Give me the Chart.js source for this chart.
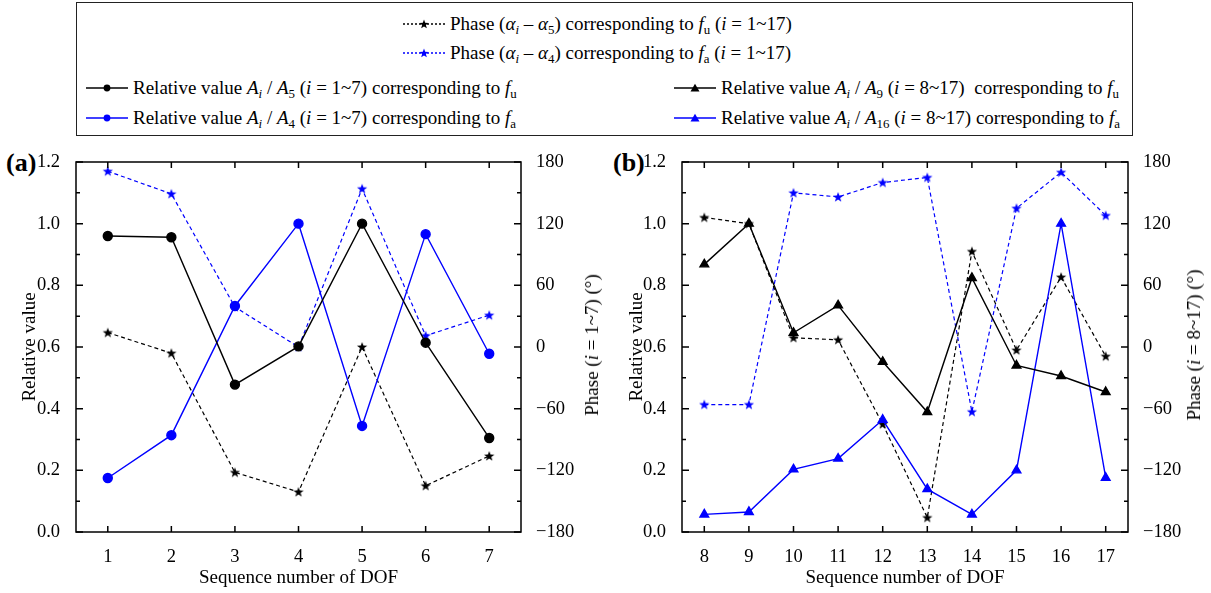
<!DOCTYPE html>
<html>
<head>
<meta charset="utf-8">
<script src="https://cdn.jsdelivr.net/npm/chart.js@4.4.1/dist/chart.umd.min.js"></script>
<style>
  body { margin: 0; background: #fff; font-family: "Liberation Serif", "Times New Roman", serif; color: #000; }
  #page { position: relative; width: 1211px; height: 593px; overflow: hidden; }
  .legend { position: absolute; left: 76px; top: 2px; width: 1057px; height: 134px; border: 1.5px solid #222; box-sizing: border-box; }
  .item { position: absolute; font-size: 19px; white-space: nowrap; height: 24px; display: flex; align-items: center; }
  .item svg { margin-right: 5px; }
  sub { font-size: 0.68em; vertical-align: -0.3em; line-height: 0; }
  .panel { position: absolute; top: 140px; }
  .tag { position: absolute; font-size: 26px; font-weight: bold; }
  .rtitle { position: absolute; font-size: 19px; white-space: nowrap; transform: translate(-50%, -50%) rotate(-90deg); }
</style>
</head>
<body>
<div id="page">
  <div class="legend" id="legend"></div>
  <div class="tag" style="left:6px; top:148px;">(a)</div>
  <div class="tag" style="left:613px; top:148px;">(b)</div>
  <canvas class="panel" id="chartA" width="605" height="453" style="left:0px;"></canvas>
  <canvas class="panel" id="chartB" width="606" height="453" style="left:605px;"></canvas>
  <div class="rtitle" style="left:592px; top:345px;">Phase (<i>i</i> = 1~7) (°)</div>
  <div class="rtitle" style="left:1194px; top:345px;">Phase (<i>i</i> = 8~17) (°)</div>
</div>
<script>
// panel (a): DOF 1~7
const dofA = ['1', '2', '3', '4', '5', '6', '7'];
const relA5 = [0.960, 0.956, 0.478, 0.602, 1.000, 0.614, 0.305];
const relA4 = [0.175, 0.314, 0.733, 1.000, 0.344, 0.966, 0.578];
const phaseA5 = [14, -6, -122, -141, 0, -135, -106];
const phaseA4 = [171, 149, 39, 0, 154, 11, 31];

// panel (b): DOF 8~17
const dofB = ['8', '9', '10', '11', '12', '13', '14', '15', '16', '17'];
const relA9 = [0.868, 1.000, 0.646, 0.735, 0.552, 0.389, 0.824, 0.540, 0.506, 0.454];
const relA16 = [0.057, 0.065, 0.203, 0.238, 0.364, 0.139, 0.057, 0.200, 1.000, 0.176];
const phaseB5 = [126, 120, 9, 7, -75, -166, 93, -3, 68, -9];
const phaseB4 = [-56, -56, 150, 146, 160, 165, -63, 135, 170, 128];

const relTicks = [0, 1.2, 0.2];
const phaseTicks = [-180, 180, 60];

const BLUE = '#0000ff';
const BLACK = '#000000';

Chart.defaults.font.family = '"Liberation Serif", "Times New Roman", serif';
Chart.defaults.color = '#000';

function starPoints(cx, cy, R, r) {
  const pts = [];
  for (let k = 0; k < 10; k += 1) {
    const rad = k % 2 === 0 ? R : r;
    const ang = -Math.PI / 2 + (k * Math.PI) / 5;
    pts.push([cx + rad * Math.cos(ang), cy + rad * Math.sin(ang)]);
  }
  return pts;
}

function starImage(color) {
  const c = document.createElement('canvas');
  c.width = 12;
  c.height = 12;
  const g = c.getContext('2d');
  g.fillStyle = color;
  g.beginPath();
  starPoints(6, 6.4, 5.4, 2.2).forEach(([x, y], i) => (i ? g.lineTo(x, y) : g.moveTo(x, y)));
  g.closePath();
  g.fill();
  return c;
}

const starBlack = starImage(BLACK);
const starBlue = starImage(BLUE);

// frame and inward ticks, placed through the chart scales
const frameTicks = {
  id: 'frameTicks',
  afterDraw(chart) {
    const { ctx, chartArea: a, scales } = chart;
    ctx.save();
    ctx.strokeStyle = '#000';
    ctx.lineWidth = 1.5;
    ctx.strokeRect(a.left, a.top, a.right - a.left, a.bottom - a.top);
    ctx.beginPath();
    scales.x.ticks.forEach((t, i) => {
      const px = scales.x.getPixelForTick(i);
      ctx.moveTo(px, a.bottom);
      ctx.lineTo(px, a.bottom - 6);
      ctx.moveTo(px, a.top);
      ctx.lineTo(px, a.top + 6);
    });
    for (let k = 0; k <= 12; k += 1) {
      const py = scales.y.getPixelForValue(k / 10);
      ctx.moveTo(a.left, py);
      ctx.lineTo(a.left + (k % 2 === 0 ? 7 : 4), py);
    }
    for (let d = -180; d <= 180; d += 30) {
      const py = scales.y2.getPixelForValue(d);
      ctx.moveTo(a.right, py);
      ctx.lineTo(a.right - (d % 60 === 0 ? 7 : 4), py);
    }
    ctx.stroke();
    ctx.restore();
  },
};

function makeChart(id, labels, relFu, relFa, phFu, phFa, marker, box) {
  const ctx = document.getElementById(id).getContext('2d');
  const mRadius = marker === 'circle' ? 4.5 : 5;
  const tickFont = { size: 18.5 };
  return new Chart(ctx, {
    type: 'line',
    data: {
      labels,
      datasets: [
        {
          data: relFu, yAxisID: 'y', borderColor: BLACK, backgroundColor: BLACK,
          borderWidth: 1.4, pointStyle: marker, pointRadius: mRadius,
        },
        {
          data: relFa, yAxisID: 'y', borderColor: BLUE, backgroundColor: BLUE,
          borderWidth: 1.4, pointStyle: marker, pointRadius: mRadius,
        },
        {
          data: phFu, yAxisID: 'y2', borderColor: BLACK, borderWidth: 1.2,
          borderDash: [4, 3], pointStyle: starBlack,
        },
        {
          data: phFa, yAxisID: 'y2', borderColor: BLUE, borderWidth: 1.2,
          borderDash: [4, 3], pointStyle: starBlue,
        },
      ],
    },
    options: {
      responsive: false,
      animation: false,
      events: [],
      layout: { padding: { top: 22, left: 0, right: 0, bottom: 0 } },
      plugins: { legend: { display: false }, tooltip: { enabled: false } },
      scales: {
        x: {
          type: 'category',
          offset: true,
          grid: { display: false },
          border: { display: false },
          ticks: { font: tickFont, padding: 6 },
          title: { display: true, text: 'Sequence number of DOF', font: { size: 19 }, padding: { top: 0, bottom: 4 } },
          afterFit: (s) => { s.height = box.bottom; },
        },
        y: {
          position: 'left',
          min: relTicks[0],
          max: relTicks[1],
          grid: { display: false },
          border: { display: false },
          ticks: { stepSize: relTicks[2], font: tickFont, padding: 8, callback: (v) => v.toFixed(1) },
          title: { display: true, text: 'Relative value', font: { size: 19 }, padding: { top: box.titleOff, bottom: 0 } },
          afterFit: (s) => { s.width = box.left; },
        },
        y2: {
          position: 'right',
          min: phaseTicks[0],
          max: phaseTicks[1],
          grid: { display: false },
          border: { display: false },
          ticks: {
            stepSize: phaseTicks[2], font: tickFont, padding: 7,
            callback: (v) => String(v).replace('-', '\u2212'),
          },
          afterFit: (s) => { s.width = box.right; },
        },
      },
    },
    plugins: [frameTicks],
  });
}

makeChart('chartA', dofA, relA5, relA4, phaseA5, phaseA4, 'circle', { left: 76, right: 84, bottom: 61, titleOff: 19 });
makeChart('chartB', dofB, relA9, relA16, phaseB5, phaseB4, 'triangle', { left: 77, right: 83, bottom: 61, titleOff: 21 });

// legend
function sampleSvg(color, dashed, marker) {
  const w = 42;
  const h = 16;
  let shape = '';
  if (marker === 'star') {
    const pts = starPoints(21, 8.4, 4.8, 2.0).map((p) => p.join(',')).join(' ');
    shape = `<polygon points="${pts}" fill="${color}"/>`;
  } else if (marker === 'circle') {
    shape = `<circle cx="21" cy="8" r="3.4" fill="${color}"/>`;
  } else {
    shape = `<polygon points="21,3.8 25.5,11.5 16.5,11.5" fill="${color}"/>`;
  }
  const dash = dashed ? 'stroke-dasharray="2,2"' : '';
  return `<svg width="${w}" height="${h}"><line x1="0" y1="8" x2="${w}" y2="8" stroke="${color}" stroke-width="1.5" ${dash}/>${shape}</svg>`;
}

const legendItems = [
  { x: 326, y: 9, color: BLACK, dashed: true, marker: 'star',
    html: 'Phase (<i>α<sub>i</sub></i> \u2013 <i>α</i><sub>5</sub>) corresponding to <i>f</i><sub>u</sub> (<i>i</i> = 1~17)' },
  { x: 326, y: 38, color: BLUE, dashed: true, marker: 'star',
    html: 'Phase (<i>α<sub>i</sub></i> \u2013 <i>α</i><sub>4</sub>) corresponding to <i>f</i><sub>a</sub> (<i>i</i> = 1~17)' },
  { x: 9, y: 73, color: BLACK, dashed: false, marker: 'circle',
    html: 'Relative value <i>A<sub>i</sub></i> / <i>A</i><sub>5</sub> (<i>i</i> = 1~7) corresponding to <i>f</i><sub>u</sub>' },
  { x: 9, y: 103, color: BLUE, dashed: false, marker: 'circle',
    html: 'Relative value <i>A<sub>i</sub></i> / <i>A</i><sub>4</sub> (<i>i</i> = 1~7) corresponding to <i>f</i><sub>a</sub>' },
  { x: 597, y: 73, color: BLACK, dashed: false, marker: 'triangle',
    html: 'Relative value <i>A<sub>i</sub></i> / <i>A</i><sub>9</sub> (<i>i</i> = 8~17)&nbsp; corresponding to <i>f</i><sub>u</sub>' },
  { x: 597, y: 103, color: BLUE, dashed: false, marker: 'triangle',
    html: 'Relative value <i>A<sub>i</sub></i> / <i>A</i><sub>16</sub> (<i>i</i> = 8~17) corresponding to <i>f</i><sub>a</sub>' },
];

const legend = document.getElementById('legend');
legendItems.forEach((it) => {
  const div = document.createElement('div');
  div.className = 'item';
  div.style.left = `${it.x}px`;
  div.style.top = `${it.y}px`;
  div.innerHTML = `${sampleSvg(it.color, it.dashed, it.marker)}<span>${it.html}</span>`;
  legend.appendChild(div);
});
</script>
</body>
</html>
